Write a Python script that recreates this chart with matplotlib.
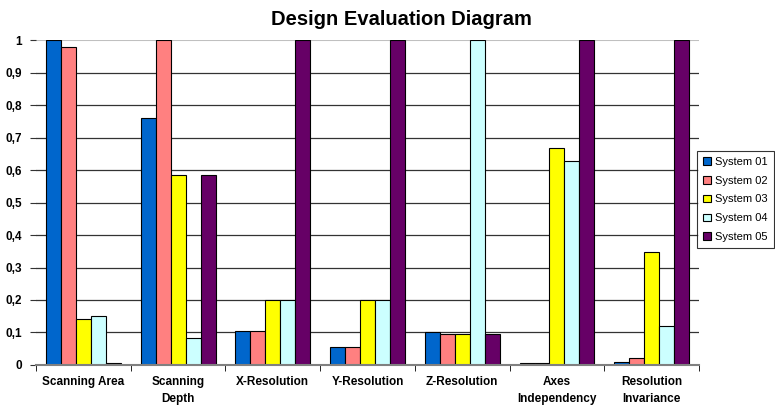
import matplotlib
matplotlib.use("Agg")
import matplotlib.pyplot as plt
import numpy as np
from matplotlib.ticker import FixedLocator

plt.rcParams['font.family'] = ['Liberation Sans', 'DejaVu Sans']

categories = ["Scanning Area", "Scanning\nDepth", "X-Resolution", "Y-Resolution",
              "Z-Resolution", "Axes\nIndependency", "Resolution\nInvariance"]
series_names = ["System 01", "System 02", "System 03", "System 04", "System 05"]
system01 = [1.0, 0.76, 0.105, 0.055, 0.10, 0.005, 0.008]
system02 = [0.98, 1.0, 0.105, 0.055, 0.095, 0.005, 0.02]
system03 = [0.14, 0.585, 0.20, 0.20, 0.095, 0.667, 0.347]
system04 = [0.15, 0.083, 0.20, 0.20, 1.0, 0.629, 0.121]
system05 = [0.005, 0.585, 1.0, 1.0, 0.095, 1.0, 1.0]
series = [system01, system02, system03, system04, system05]
colors = ["#0066CC", "#FF8080", "#FFFF00", "#CCFFFF", "#660066"]
yticks = [0, 0.1, 0.2, 0.3, 0.4, 0.5, 0.6, 0.7, 0.8, 0.9, 1]
ytick_labels = ["0", "0,1", "0,2", "0,3", "0,4", "0,5", "0,6", "0,7", "0,8", "0,9", "1"]

fig = plt.figure(figsize=(7.75, 4.07), dpi=100)
ax = fig.add_axes([0.0465, 0.1032, 0.8555, 0.7985])

n = len(categories)
x = np.arange(n)
w = 0.158
for i, (vals, c, name) in enumerate(zip(series, colors, series_names)):
    ax.bar(x - 2 * w + i * w, vals, width=w, color=c, edgecolor="black",
           linewidth=0.8, label=name, zorder=3)

ax.set_xlim(-0.5, n - 0.5)
ax.set_ylim(0, 1)
ax.set_yticks(yticks)
ax.set_yticklabels(ytick_labels, fontsize=8.5, fontweight="bold")
for v in yticks[1:-1]:
    ax.axhline(v, color="#333333", linewidth=0.9, zorder=1)
ax.axhline(1, color="#C0C0C0", linewidth=1.5, zorder=1)

ax.set_xticks(x)
ax.set_xticklabels(categories, fontsize=8.5, fontweight="bold", linespacing=1.5)
ax.xaxis.set_minor_locator(FixedLocator(np.arange(n + 1) - 0.5))
ax.tick_params(axis="x", which="major", length=0, pad=8)
ax.tick_params(axis="x", which="minor", length=4, color="black", direction="out")
ax.tick_params(axis="y", length=4, color="#333333", pad=6)

for s in ["top", "right", "left"]:
    ax.spines[s].set_visible(False)
ax.spines["bottom"].set_color("#808080")
ax.spines["bottom"].set_linewidth(1.5)
ax.spines["bottom"].set_zorder(4)

fig.suptitle("Design Evaluation Diagram", fontsize=14.5, fontweight="bold", x=0.518, y=0.975)

leg = fig.legend(loc="center left", bbox_to_anchor=(0.899, 0.51), fontsize=8,
                 frameon=True, fancybox=False, edgecolor="black",
                 handlelength=0.7, handleheight=0.7, handletextpad=0.4,
                 labelspacing=0.8, borderpad=0.55, borderaxespad=0)
leg.get_frame().set_linewidth(0.8)

fig.savefig("out.png", dpi=100, facecolor="white")
